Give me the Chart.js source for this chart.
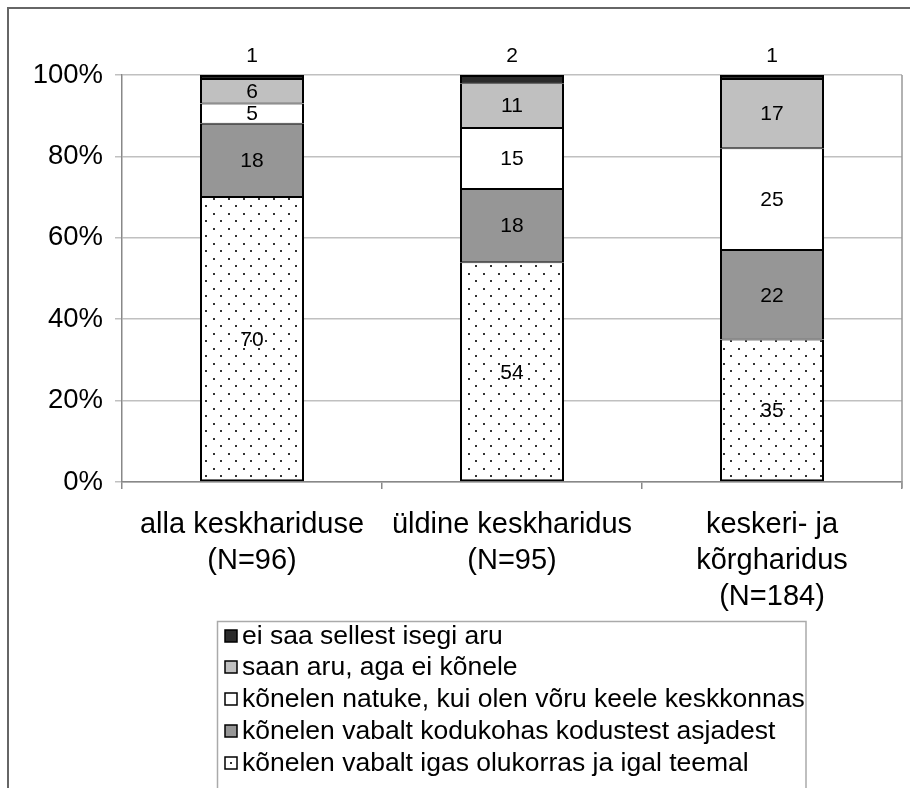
<!DOCTYPE html>
<html><head><meta charset="utf-8">
<script src="https://cdn.jsdelivr.net/npm/chart.js@4.4.0/dist/chart.umd.min.js"></script>
<style>html,body{margin:0;padding:0;background:#fff;} #wrap{width:910px;height:788px;position:relative;}</style>
</head><body><div id="wrap"><canvas id="c" width="910" height="788"></canvas></div>
<script>
const categories = [["alla keskhariduse","(N=96)"],["üldine keskharidus","(N=95)"],["keskeri- ja","kõrgharidus","(N=184)"]];
const seriesNames = ["kõnelen vabalt igas olukorras ja igal teemal","kõnelen vabalt kodukohas kodustest asjadest","kõnelen natuke, kui olen võru keele keskkonnas","saan aru, aga ei kõnele","ei saa sellest isegi aru"];
const igas = [70,54,35];
const kodukohas = [18,18,22];
const natuke = [5,15,25];
const saanAru = [6,11,17];
const eiSaa = [1,2,1];
const yTicks = [0,20,40,60,80,100];

const FONT = '"Liberation Sans", Arial, sans-serif';
const canvas = document.getElementById('c');
const mainCtx = canvas.getContext('2d');

function makeDotPattern(){
  const p = document.createElement('canvas'); p.width = 15; p.height = 15;
  const g = p.getContext('2d');
  g.fillStyle = '#fff'; g.fillRect(0,0,15,15);
  g.fillStyle = '#333';
  g.fillRect(3,3,2,2); g.fillRect(10,10,2,2);
  return mainCtx.createPattern(p,'repeat');
}
const dots = makeDotPattern();
const fills = [dots, '#969696', '#ffffff', '#c0c0c0', '#2b2b2b'];
const seriesData = [igas, kodukohas, natuke, saanAru, eiSaa];
const nSeries = seriesData.length;

const datasets = seriesData.map((d,i)=>({
  label: seriesNames[i],
  data: d,
  backgroundColor: fills[i],
  borderColor: '#000',
  borderWidth: { left: 2, right: 2, top: i === nSeries-1 ? 2 : 1, bottom: i === 0 ? 2 : 1 },
  borderSkipped: false,
  inflateAmount: 0,
  barPercentage: 0.8,
  categoryPercentage: 0.5
}));

const decor = {
  id: 'decor',
  beforeDraw(chart){
    const ctx = chart.ctx;
    ctx.save();
    ctx.fillStyle = '#fff'; ctx.fillRect(0,0,chart.width,chart.height);
    ctx.strokeStyle = '#666'; ctx.lineWidth = 2;
    ctx.beginPath(); ctx.moveTo(8, 800); ctx.lineTo(8, 8); ctx.lineTo(920, 8); ctx.stroke();
    ctx.restore();
  },
  afterDatasetsDraw(chart){
    const ctx = chart.ctx; const ca = chart.chartArea;
    ctx.save();
    ctx.strokeStyle = '#999'; ctx.lineWidth = 1.5;
    ctx.beginPath(); ctx.moveTo(ca.right, ca.top); ctx.lineTo(ca.right, ca.bottom + 6); ctx.stroke();
    ctx.font = '21px ' + FONT; ctx.fillStyle = '#000';
    ctx.textAlign = 'center'; ctx.textBaseline = 'middle';
    const n = chart.data.datasets.length;
    chart.data.datasets.forEach((ds,di)=>{
      const meta = chart.getDatasetMeta(di);
      meta.data.forEach((bar,i)=>{
        const v = ds.data[i];
        const y = (di === n-1) ? ca.top - 20 : (bar.y + bar.base)/2;
        ctx.fillText(String(v), bar.x, y + 1);
      });
    });
    ctx.restore();
  },
  afterDraw(chart){
    const ctx = chart.ctx;
    ctx.save();
    ctx.strokeStyle = '#aaa'; ctx.lineWidth = 1.5;
    ctx.strokeRect(217.5, 621.5, 588.5, 200);
    const rows = [636, 667, 699, 731, 763];
    ctx.font = '26.5px ' + FONT; ctx.textBaseline = 'middle'; ctx.textAlign = 'left';
    const order = [4,3,2,1,0];
    order.forEach((di,r)=>{
      const ds = chart.data.datasets[di];
      const y = rows[r];
      ctx.fillStyle = ds.backgroundColor === dots ? '#fff' : ds.backgroundColor;
      ctx.fillRect(225, y-6, 12, 12);
      if (ds.backgroundColor === dots){ ctx.fillStyle = '#333'; ctx.fillRect(230, y-1, 2, 2); }
      ctx.strokeStyle = '#000'; ctx.lineWidth = 1.5;
      ctx.strokeRect(225, y-6, 12, 12);
      ctx.fillStyle = '#000';
      ctx.fillText(ds.label, 242, y + 1);
    });
    ctx.restore();
  }
};

new Chart(canvas, {
  type: 'bar',
  data: { labels: categories, datasets },
  options: {
    responsive: false,
    animation: false,
    devicePixelRatio: 1,
    layout: { padding: { left: 0, top: 75, right: 8, bottom: 176 } },
    plugins: { legend: { display: false }, tooltip: { enabled: false } },
    scales: {
      x: {
        stacked: true,
        offset: true,
        grid: { display: true, offset: true, drawOnChartArea: false, drawTicks: true, tickLength: 7, color: '#888', lineWidth: 1.5 },
        border: { display: true, color: '#888', width: 1.5 },
        ticks: { color: '#000', font: { size: 29, family: FONT, lineHeight: 1.24 }, padding: 18, maxRotation: 0, autoSkip: false },
        afterFit(s){ s.height = 130; }
      },
      y: {
        stacked: true,
        min: 0, max: 100,
        afterBuildTicks(s){ s.ticks = yTicks.map(v=>({value:v})); },
        grid: { color: '#c0c0c0', lineWidth: 1.5, tickLength: 7, drawTicks: true },
        border: { display: true, color: '#888', width: 1.5 },
        ticks: { color: '#000', font: { size: 27.5, family: FONT }, padding: 12, callback: v => v + '%' },
        afterFit(s){ s.width = 122; }
      }
    }
  },
  plugins: [decor]
});
</script></body></html>
